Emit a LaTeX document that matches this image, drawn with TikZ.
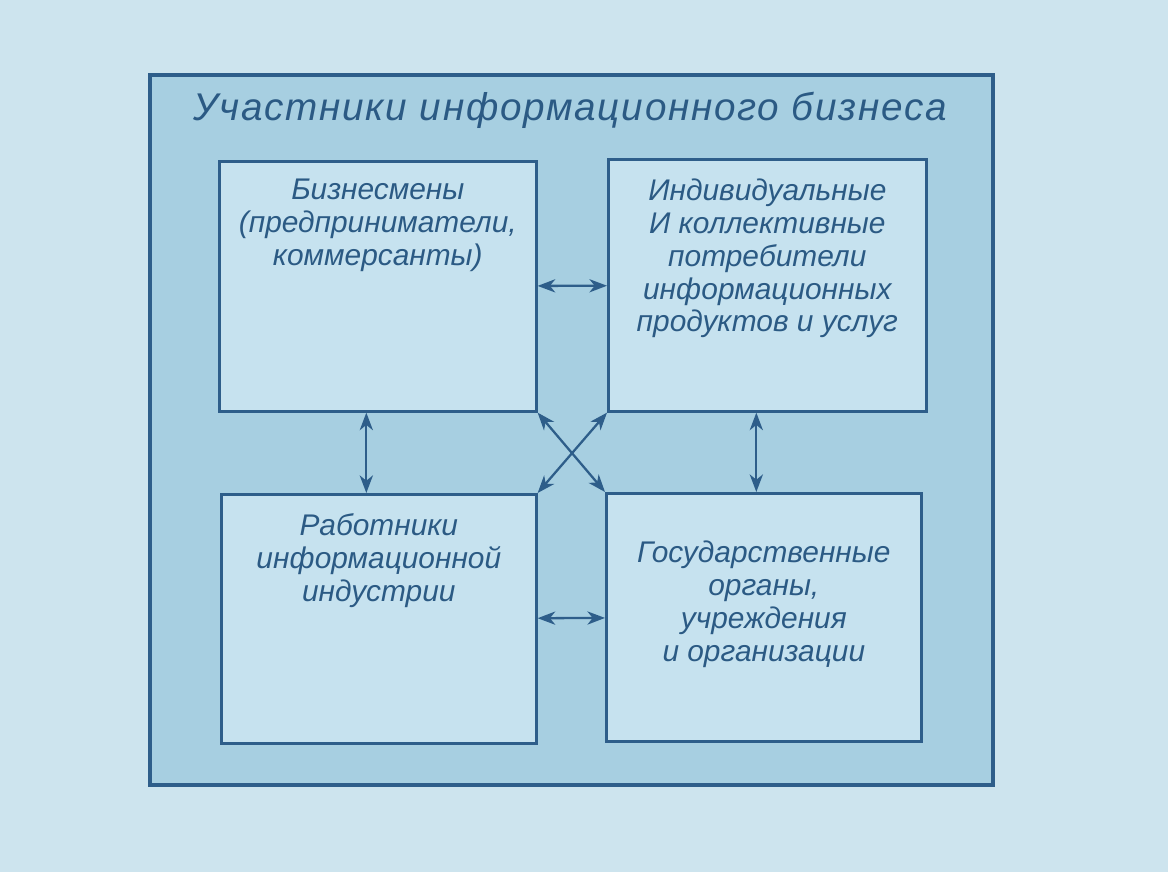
\documentclass[tikz,border=0pt]{standalone}
\usepackage{fontspec}
\setmainfont{Liberation Sans}
\usetikzlibrary{positioning, arrows.meta, calc}
\definecolor{fon}{HTML}{CDE4EE}
\definecolor{ramka}{HTML}{A7CFE1}
\definecolor{blok}{HTML}{C6E2EF}
\definecolor{linia}{HTML}{2E5E8A}
\definecolor{tekst}{HTML}{2B5A84}
\newfontfamily\zagfont[LetterSpace=4.5]{Liberation Sans}
\newcommand{\ptx}[1]{\parbox{6cm}{\centering\fontsize{17}{18.7}\selectfont\itshape #1}}

\begin{document}
\begin{tikzpicture}[x=0.02cm, y=-0.02cm,
        bx/.style={draw=linia, line width=1.5pt, fill=blok, inner sep=0pt, anchor=north west},
        tx/.style={text=tekst, inner sep=0pt, anchor=north},
        fl/.style={{Stealth[length=10pt, width=7.5pt, inset=3pt]}-{Stealth[length=10pt, width=7.5pt, inset=3pt]}, linia, line width=1.3pt}]
        \fill[fon] (0,0) rectangle (1168,872);
        \draw[linia, line width=1.8pt, fill=ramka] (150,75) rectangle (993,785);
        \node[tx, anchor=base] (zag) at (570,120) {\zagfont\fontsize{22}{24}\selectfont\itshape Участники информационного бизнеса};
        % bloki
        \node[bx, minimum width=317*0.02cm, minimum height=250*0.02cm] (a) at (218,160) {};
        \node[bx, minimum width=318*0.02cm, minimum height=252*0.02cm] (b) at (607,158) {};
        \node[bx, minimum width=315*0.02cm, minimum height=249*0.02cm] (c) at (220,493) {};
        \node[bx, minimum width=315*0.02cm, minimum height=248*0.02cm] (d) at (605,492) {};
        \node[tx, below=0.37cm of a.north] (ta) {\ptx{Бизнесмены\par (предприниматели,\par коммерсанты)}};
        \node[tx, below=0.41cm of b.north] (tb) {\ptx{Индивидуальные\par И коллективные\par потребители\par информационных\par продуктов и услуг}};
        \node[tx, below=0.41cm of c.north] (tc) {\ptx{Работники\par информационной\par индустрии}};
        \node[tx, below=0.97cm of d.north] (td) {\ptx{Государственные\par органы,\par учреждения\par и организации}};
        % strelki
        \draw[fl] (a) -- (b);
        \draw[fl] (c) -- (d);
        \draw[fl] ([xshift=-0.23cm]a.south) coordinate (v1) -- (v1 |- c.north);
        \draw[fl] ([xshift=-0.22cm]b.south) coordinate (v2) -- (v2 |- d.north);
        \draw[fl] (a.south east) -- (d.north west);
        \draw[fl] (b.south west) -- (c.north east);
    \end{tikzpicture}
\end{document}
